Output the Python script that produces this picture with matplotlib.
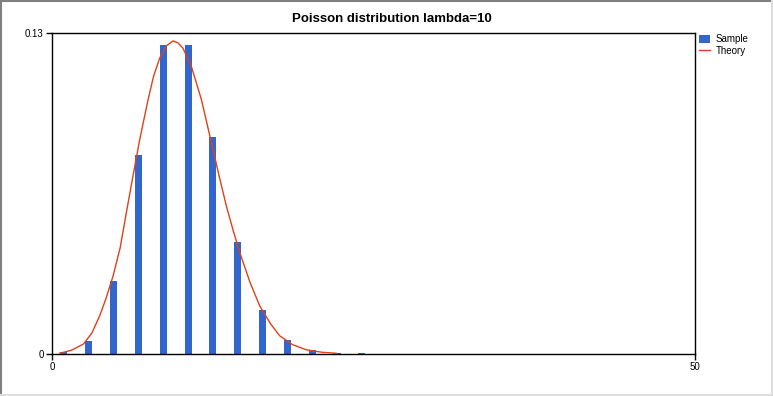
import numpy as np
import matplotlib.pyplot as plt
from matplotlib.lines import Line2D

plt.rcParams['font.family'] = ['Liberation Sans', 'DejaVu Sans']

# histogram of the sample (bin centre, frequency)
sample_x = [0.93, 2.86, 4.79, 6.72, 8.65, 10.58, 12.51, 14.44, 16.37, 18.3, 20.23, 22.16, 24.09]
sample_y = [0.001, 0.0054, 0.0296, 0.0807, 0.1253, 0.1253, 0.0877, 0.0452, 0.0178,
            0.0058, 0.0016, 0.0005, 0.0005]

# theoretical curve
theory_x = [0.6, 1.5, 2.44, 3.1, 3.71, 4.2, 4.75, 5.3, 5.78, 6.3, 6.82, 7.47, 7.9, 8.37, 8.9,
            9.41, 9.8, 10.19, 10.84, 11.62, 12.4, 13.0, 13.56, 14.1, 14.6, 15.4, 16.15, 17.0,
            17.7, 18.7, 19.78, 21.0, 22.1]
theory_y = [0.0003, 0.0015, 0.004, 0.0085, 0.0155, 0.0225, 0.0316, 0.043, 0.0572, 0.0722,
            0.0868, 0.103, 0.1125, 0.1198, 0.1248, 0.1268, 0.126, 0.1238, 0.1164, 0.103,
            0.0855, 0.072, 0.0599, 0.0498, 0.0411, 0.029, 0.0195, 0.0122, 0.0074, 0.0038,
            0.0017, 0.0007, 0.0003]

fig = plt.figure(figsize=(7.73, 3.96), dpi=100)
ax = fig.add_axes([52 / 773, 42 / 396, 643 / 773, 321 / 396])

bars = ax.bar(sample_x, sample_y, width=0.55, color='#3366CC', label='Sample', zorder=2)
line, = ax.plot(theory_x, theory_y, color='#E0401A', lw=1.0, label='Theory', zorder=3)

ax.set_xlim(0, 50)
ax.set_ylim(0, 0.13)
ax.set_xticks([0, 50])
ax.set_xticklabels(['0', '50'])
ax.set_yticks([0, 0.13])
ax.set_yticklabels(['0', '0.13'])
ax.tick_params(labelsize=7, length=4, width=1, pad=2)
for s in ax.spines.values():
    s.set_linewidth(1.0)

fig.text(392 / 773, 1 - 19 / 396, 'Poisson distribution lambda=10', ha='center', va='center',
         fontsize=9.5, fontweight='bold')

ax.legend([bars, line], ['Sample', 'Theory'], loc='upper left', bbox_to_anchor=(1.003, 1.002),
          frameon=False, fontsize=7, handlelength=1.1, handleheight=1.0, handletextpad=0.6,
          labelspacing=0.2, borderpad=0.2, borderaxespad=0)

# window-style frame
fig.add_artist(Line2D([0.5 / 773, 0.5 / 773], [0, 1], color='#808080', lw=1.5))
fig.add_artist(Line2D([0, 1], [1 - 0.5 / 396, 1 - 0.5 / 396], color='#808080', lw=1.5))
fig.add_artist(Line2D([1 - 1 / 773, 1 - 1 / 773], [0, 1], color='#DDDDDD', lw=1.5))
fig.add_artist(Line2D([0, 1], [1 / 396, 1 / 396], color='#DDDDDD', lw=1.5))

fig.savefig('out.png', dpi=100)
